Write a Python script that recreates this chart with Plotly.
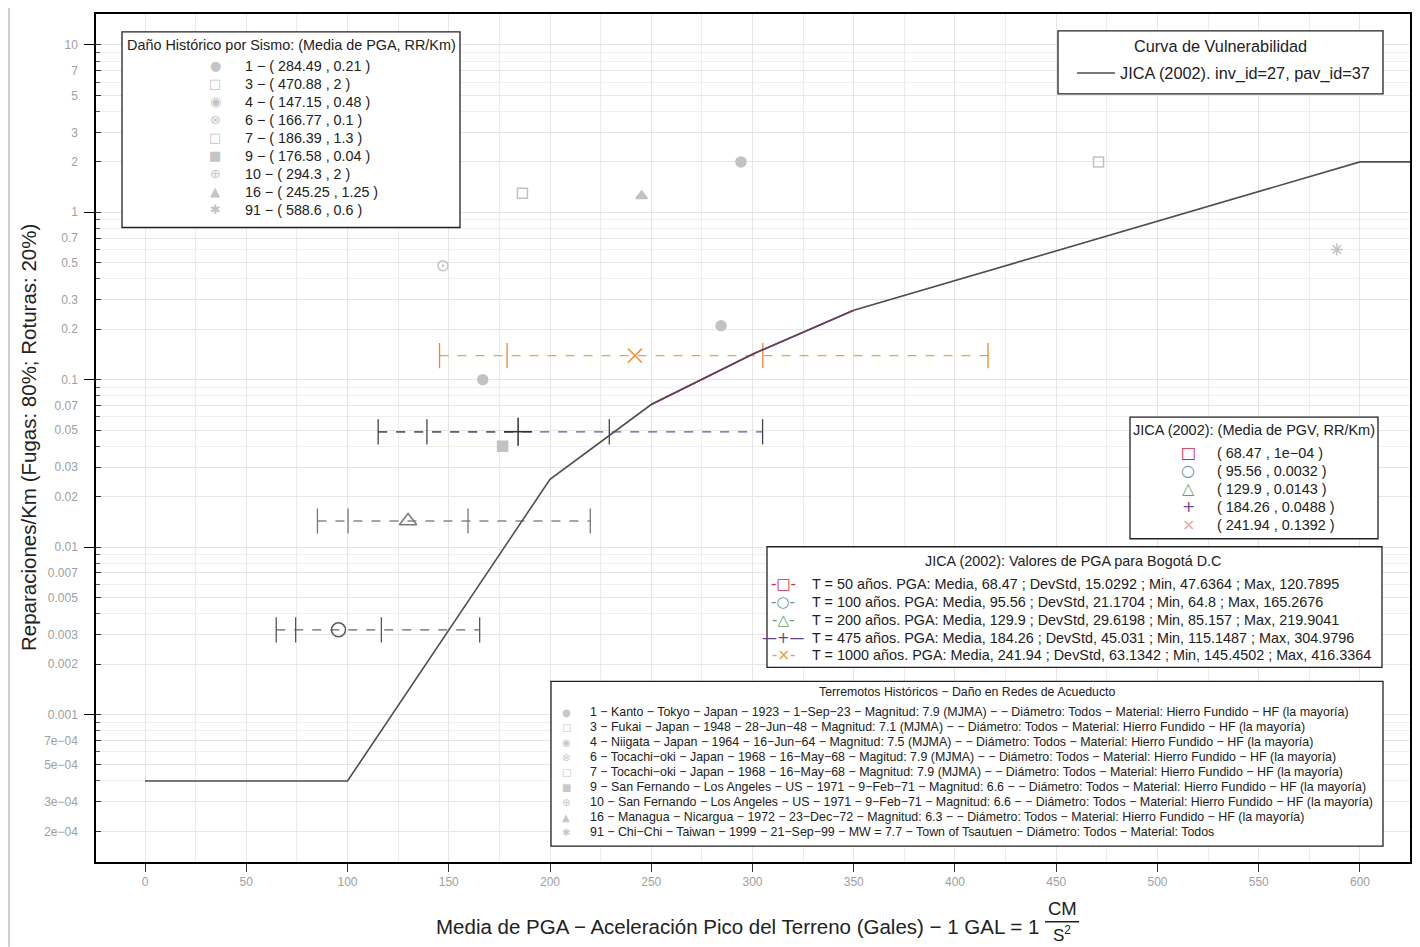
import plotly.graph_objects as go

# ---------------- data ----------------
curve_pga = [0, 100, 200, 250, 300, 350, 600, 630]
curve_rr = [0.0004, 0.0004, 0.0254, 0.071, 0.142, 0.26, 2.0, 2.0]
curve_name = "JICA (2002). inv_id=27, pav_id=37"

hist_id = [1, 3, 4, 6, 7, 9, 10, 16, 91]
hist_pga = [284.49, 470.88, 147.15, 166.77, 186.39, 176.58, 294.3, 245.25, 588.6]
hist_rr = [0.21, 2, 0.48, 0.1, 1.3, 0.04, 2, 1.25, 0.6]
hist_desc = [
    "1 − Kanto − Tokyo − Japan − 1923 − 1−Sep−23 − Magnitud: 7.9 (MJMA) − − Diámetro: Todos − Material: Hierro Fundido − HF (la mayoría)",
    "3 − Fukai − Japan − 1948 − 28−Jun−48 − Magnitud: 7.1 (MJMA) − − Diámetro: Todos − Material: Hierro Fundido − HF (la mayoría)",
    "4 − Niigata − Japan − 1964 − 16−Jun−64 − Magnitud: 7.5 (MJMA) − − Diámetro: Todos − Material: Hierro Fundido − HF (la mayoría)",
    "6 − Tocachi−oki − Japan − 1968 − 16−May−68 − Magitud: 7.9 (MJMA) − − Diámetro: Todos − Material: Hierro Fundido − HF (la mayoría)",
    "7 − Tocachi−oki − Japan − 1968 − 16−May−68 − Magnitud: 7.9 (MJMA) − − Diámetro: Todos − Material: Hierro Fundido − HF (la mayoría)",
    "9 − San Fernando − Los Angeles − US − 1971 − 9−Feb−71 − Magnitud: 6.6 − − Diámetro: Todos − Material: Hierro Fundido − HF (la mayoría)",
    "10 − San Fernando − Los Angeles − US − 1971 − 9−Feb−71 − Magnitud: 6.6 − − Diámetro: Todos − Material: Hierro Fundido − HF (la mayoría)",
    "16 − Managua − Nicargua − 1972 − 23−Dec−72 − Magnitud: 6.3 − − Diámetro: Todos − Material: Hierro Fundido − HF (la mayoría)",
    "91 − Chi−Chi − Taiwan − 1999 − 21−Sep−99 − MW = 7.7 − Town of Tsautuen − Diámetro: Todos − Material: Todos",
]

scen_T = [50, 100, 200, 475, 1000]
scen_mean = [68.47, 95.56, 129.9, 184.26, 241.94]
scen_std = [15.0292, 21.1704, 29.6198, 45.031, 63.1342]
scen_min = [47.6364, 64.8, 85.157, 115.1487, 145.4502]
scen_max = [120.7895, 165.2676, 219.9041, 304.9796, 416.3364]
scen_rr = [0.0001, 0.0032, 0.0143, 0.0488, 0.1392]

y_tickvals = [2e-4, 3e-4, 5e-4, 7e-4, 1e-3, 2e-3, 3e-3, 5e-3, 7e-3, 0.01, 0.02, 0.03, 0.05, 0.07,
              0.1, 0.2, 0.3, 0.5, 0.7, 1, 2, 3, 5, 7, 10]
y_ticktext = ["2e−04", "3e−04", "5e−04", "7e−04", "0.001", "0.002", "0.003", "0.005", "0.007",
              "0.01", "0.02", "0.03", "0.05", "0.07", "0.1", "0.2", "0.3", "0.5", "0.7",
              "1", "2", "3", "5", "7", "10"]
y_minorvals = [m * 10.0 ** e for e in range(-4, 2) for m in (4, 6, 8, 9)]
y_decades = [1e-3, 1e-2, 1e-1, 1, 10]
x_tickvals = list(range(0, 601, 50))

# ---------------- styles ----------------
FONT = "Liberation Sans, Arial, sans-serif"
GLYPH_FONT = "DejaVu Sans"
TXT = '#222222'
hist_symbol = ['circle', 'square-open', 'circle-open-dot', 'circle-x', 'square-open', 'square',
               'circle-cross', 'triangle-up', 'asterisk-open']
hist_glyph = ['●', '□', '◉', '⊗', '□', '■', '⊕', '▲', '✱']
HIST_COL = '#c2c2c2'

scen_symbol = ['square-open', 'circle-open', 'triangle-up-open', 'cross-thin-open', 'x-thin-open']
scen_msize = [12, 14, 15, 20, 14]
plot_col = ['#cc2a4a', '#5a5a5a', '#7a7a7a', '#333333', '#f0983a']
dash_col = ['#cc2a4a', '#666666', '#888888', '#5a5aaa', '#f2a23e']
tick_col = ['#cc2a4a', '#555555', '#777777', '#444444', '#e88a30']
leg3_glyph = ['□', '○', '△', '+', '×']
leg3_col = ['#cc2a4a', '#5f9a9a', '#6aa06a', '#7a4590', '#f0a0a8']
leg4_glyph = ['-□-', '-○-', '-△-', '—+—', '-×-']
leg4_col = ['#cc2a4a', '#6a8f8f', '#6aa06a', '#6a3f8a', '#f0983a']

# geometry (reference page pixels); the page has an 8px body margin
OFF = 8
FIG_W, FIG_H = 1420 - OFF, 947 - OFF
L, R, T, B = 96, 1410, 12, 862
W, H = R - L, B - T


def px(x):
    return (x - L) / W


def py(y):
    return (B - y) / H


def fmt(v):
    if v < 1e-3:
        return ("%.0e" % v).replace("-", "−")
    s = repr(float(v))
    return s[:-2] if s.endswith(".0") else s


fig = go.Figure()

# historical earthquakes
fig.add_trace(go.Scatter(
    x=hist_pga, y=hist_rr, mode='markers',
    marker=dict(symbol=hist_symbol, size=10, color=HIST_COL, line=dict(color=HIST_COL, width=1.5)),
    showlegend=False, hoverinfo='skip'))

# scenarios (PGA distributions)
for i in range(len(scen_T)):
    m, s, rr = scen_mean[i], scen_std[i], scen_rr[i]
    fig.add_trace(go.Scatter(
        x=[scen_min[i], scen_max[i]], y=[rr, rr], mode='lines',
        line=dict(color=dash_col[i], width=1.3, dash='dash'), showlegend=False, hoverinfo='skip'))
    if scen_T[i] == 475:
        fig.add_trace(go.Scatter(
            x=[scen_min[i], m], y=[rr, rr], mode='lines',
            line=dict(color='#555555', width=1.3, dash='dash'), showlegend=False, hoverinfo='skip'))
    fig.add_trace(go.Scatter(
        x=[scen_min[i], m - s, m + s, scen_max[i]], y=[rr] * 4, mode='markers',
        marker=dict(symbol='line-ns-open', size=18, color=tick_col[i],
                    line=dict(color=tick_col[i], width=1.3)),
        showlegend=False, hoverinfo='skip'))
    fig.add_trace(go.Scatter(
        x=[m], y=[rr], mode='markers',
        marker=dict(symbol=scen_symbol[i], size=scen_msize[i], color=plot_col[i],
                    line=dict(color=plot_col[i], width=1.5)),
        showlegend=False, hoverinfo='skip'))

# vulnerability curve
fig.add_trace(go.Scatter(
    x=curve_pga, y=curve_rr, mode='lines', yaxis='y2',
    line=dict(color='#4d4d4d', width=1.6), name=curve_name, legend='legend2', hoverinfo='skip'))
fig.add_trace(go.Scatter(
    x=curve_pga[3:6], y=curve_rr[3:6], mode='lines', yaxis='y2',
    line=dict(color='#6e3d60', width=1.6), showlegend=False, hoverinfo='skip'))

yrange = [-3.882, 1.1848]
fig.update_layout(
    width=FIG_W, height=FIG_H,
    margin=dict(l=L - OFF, r=FIG_W - (R - OFF), t=T - OFF, b=FIG_H - (B - OFF)),
    paper_bgcolor='white', plot_bgcolor='white',
    font=dict(family=FONT, color=TXT),
    xaxis=dict(range=[-24.2, 624.7], tickvals=x_tickvals, ticks='outside', ticklen=8,
               tickcolor='#333333', tickfont=dict(size=12, color='#a0a0a0'),
               showline=True, mirror=True, linecolor='black', linewidth=1.5,
               showgrid=True, gridcolor='#e6e6e6', zeroline=False,
               minor=dict(dtick=25, showgrid=True, gridcolor='#ececec', ticks='')),
    yaxis=dict(type='log', range=yrange, tickvals=y_tickvals, ticktext=y_ticktext,
               ticks='inside', ticklen=5, tickcolor='#333333',
               tickfont=dict(size=12, color='#a0a0a0'), ticklabelstandoff=14,
               showline=True, mirror=True, linecolor='black', linewidth=1.5,
               showgrid=True, gridcolor='#e6e6e6', zeroline=False,
               minor=dict(tickvals=y_minorvals, ticks='inside', ticklen=4, tickcolor='#555555',
                          showgrid=True, gridcolor='#efefef')),
    yaxis2=dict(type='log', range=yrange, overlaying='y', side='left', tickvals=y_decades,
                ticks='outside', ticklen=11, tickcolor='black', tickwidth=1.2,
                showticklabels=False, showgrid=False, showline=False, zeroline=False),
    showlegend=True,
    legend2=dict(x=px(1072), y=py(54), xanchor='left', yanchor='top', bgcolor='rgba(0,0,0,0)',
                 borderwidth=0, font=dict(size=16.3, color=TXT), itemwidth=38),
)

shapes = []
annotations = []
boxes = [(122, 30, 460, 226), (1058, 29, 1383, 92), (1130, 416, 1378, 538),
         (767, 546, 1382, 667), (551, 681, 1383, 846)]
for (x0, y0, x1, y1) in boxes:
    shapes.append(dict(type='rect', xref='paper', yref='paper', x0=px(x0), x1=px(x1),
                       y0=py(y0), y1=py(y1), fillcolor='white',
                       line=dict(color='#222222', width=1.3), layer='above'))
# left page border line
shapes.append(dict(type='line', xref='paper', yref='paper', x0=px(9), x1=px(9), y0=py(0), y1=py(947),
                   line=dict(color='#cfcfcf', width=2)))
# fraction bar in x title
shapes.append(dict(type='line', xref='paper', yref='paper', x0=px(1045), x1=px(1079), y0=py(922), y1=py(922),
                   line=dict(color=TXT, width=1.5)))


def ann(text, x, y, size, xanchor='left', color=TXT, family=None, **kw):
    f = dict(size=size, color=color)
    if family:
        f['family'] = family
    annotations.append(dict(text=text, xref='paper', yref='paper', x=px(x), y=py(y),
                            xanchor=xanchor, yanchor='middle', showarrow=False, font=f, **kw))


# legend titles
ann("Daño Histórico por Sismo: (Media de PGA, RR/Km)", 291, 43, 14.4, 'center')
ann("Curva de Vulnerabilidad", 1220, 44, 16.3, 'center')
ann("JICA (2002): (Media de PGV, RR/Km)", 1254, 429, 14.5, 'center')
ann("JICA (2002): Valores de PGA para Bogotá D.C", 1073, 560, 14.4, 'center')
ann("Terremotos Históricos − Daño en Redes de Acueducto", 967, 692, 12.3, 'center')

# legend 1: historical points
for i in range(len(hist_id)):
    yy = 64 + 18 * i
    ann(hist_glyph[i], 215, yy, 13, 'center', color='#c4c4c4', family=GLYPH_FONT)
    ann(f"{hist_id[i]} − ( {fmt(hist_pga[i])} , {fmt(hist_rr[i])} )", 243, yy, 14.3)

# legend 3: PGV means
for i in range(len(scen_T)):
    yy = 452 + 18 * i
    ann(leg3_glyph[i], 1188, yy, 16, 'center', color=leg3_col[i], family=GLYPH_FONT)
    ann(f"( {fmt(scen_mean[i])} , {fmt(scen_rr[i])} )", 1215, yy, 14.4)

# legend 4: PGA values
for i in range(len(scen_T)):
    yy = 583 + 18 * i
    ann(leg4_glyph[i], 783, yy, 15, 'center', color=leg4_col[i], family=GLYPH_FONT)
    ann(f"T = {scen_T[i]} años. PGA: Media, {fmt(scen_mean[i])} ; DevStd, {fmt(scen_std[i])} ; "
        f"Min, {fmt(scen_min[i])} ; Max, {fmt(scen_max[i])}", 810, yy, 14.4)

# legend 5: earthquake descriptions
for i in range(len(hist_id)):
    yy = 712 + 15 * i
    ann(hist_glyph[i], 566, yy, 10, 'center', color='#c8c8c8', family=GLYPH_FONT)
    ann(hist_desc[i], 588, yy, 12.4)

# axis titles
ann("Reparaciones/Km (Fugas: 80%; Roturas: 20%)", 28, 437, 20.5, 'center', textangle=-90)
ann("Media de PGA − Aceleración Pico del Terreno (Gales) − 1 GAL = 1", 1041, 927, 20.5, 'right')
ann("CM", 1062, 909, 18.5, 'center')
ann("S<sup>2</sup>", 1062, 934, 17, 'center')

fig.update_layout(shapes=shapes, annotations=annotations)
fig.write_html("out.html")
